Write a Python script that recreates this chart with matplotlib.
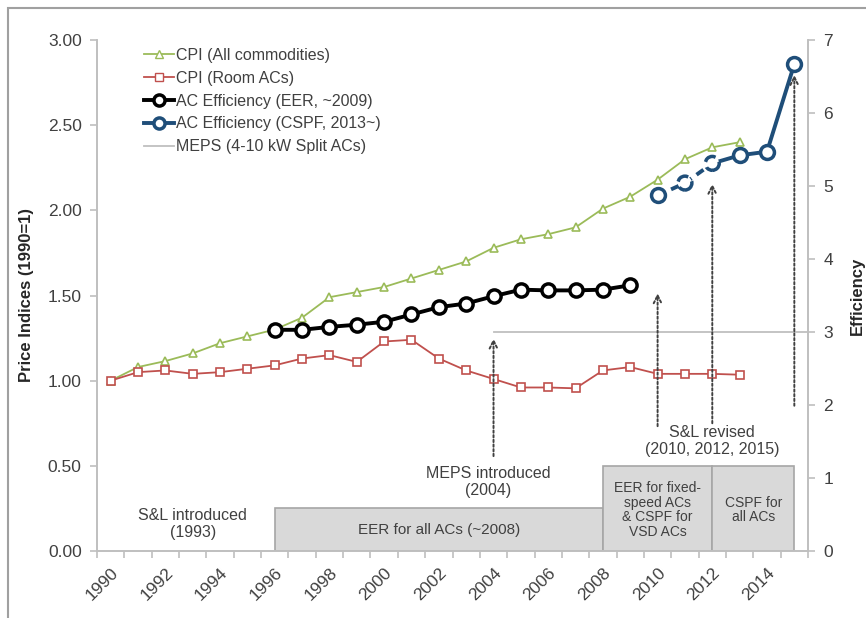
#!/usr/bin/env python3
"""Price indices vs. room AC efficiency, with S&L / MEPS milestones."""

import matplotlib

matplotlib.use("Agg")
import matplotlib.pyplot as plt
from matplotlib.lines import Line2D
from matplotlib.patches import Rectangle

plt.rcParams["font.family"] = ["Liberation Sans", "DejaVu Sans"]

# ---- data ----
years = list(range(1990, 2016))

cpi_all_years = list(range(1990, 2014))
cpi_all = [1.00, 1.08, 1.115, 1.16, 1.22, 1.26, 1.30, 1.37, 1.49, 1.52, 1.55, 1.60,
           1.65, 1.70, 1.78, 1.83, 1.86, 1.90, 2.01, 2.08, 2.18, 2.30, 2.37, 2.40]

cpi_room_years = list(range(1990, 2014))
cpi_room = [1.00, 1.05, 1.06, 1.04, 1.05, 1.07, 1.09, 1.13, 1.15, 1.11, 1.23, 1.24,
            1.13, 1.06, 1.01, 0.96, 0.96, 0.955, 1.06, 1.08, 1.04, 1.04, 1.04, 1.035]

eer_years = list(range(1996, 2010))
eer = [3.03, 3.03, 3.07, 3.10, 3.14, 3.24, 3.34, 3.39, 3.49, 3.58, 3.57, 3.57, 3.58, 3.64]

cspf_years = list(range(2010, 2016))
cspf = [4.87, 5.04, 5.31, 5.42, 5.47, 6.67]
cspf_estimated = [True, True, True, False, False, False]  # dashed part

meps_start = 2004
meps_value = 3.0

# regulation periods: (start, end, height on price axis, label)
periods_start = [1996, 2008, 2012]
periods_end = [2008, 2012, 2015]
periods_height = [0.25, 0.5, 0.5]
periods_label = ["EER for all ACs (~2008)",
                 "EER for fixed-\nspeed ACs\n& CSPF for\nVSD ACs",
                 "CSPF for\nall ACs"]

# milestone arrows on the efficiency axis: (year, bottom, top)
arrow_years = [2004, 2010, 2012, 2015]
arrow_bottom = [1.30, 1.71, 1.75, 1.99]
arrow_top = [2.91, 3.53, 5.03, 6.52]

label_years = list(range(1990, 2015, 2))

GREEN = "#9bbb59"
RED = "#c0504d"
BLUE = "#1f4e79"
GREY_TXT = "#404040"
SPINE = "#bfbfbf"

fig = plt.figure(figsize=(8.66, 6.18), dpi=100)
fig.patch.set_facecolor("white")
fig.patches.append(Rectangle((8 / 866, -0.05), 1.1, 1 - 8 / 618 + 0.05,
                             transform=fig.transFigure, fill=False,
                             edgecolor="#a0a0a0", linewidth=1.5))

ax = fig.add_axes([97 / 866, 1 - 551 / 618, (808 - 97) / 866, (551 - 40) / 618])
ax2 = ax.twinx()

ax.set_xlim(years[0] - 0.5, years[-1] + 0.5)
ax.set_ylim(0, 3)
ax2.set_ylim(0, 7)

# price indices
ax.plot(cpi_all_years, cpi_all, color=GREEN, lw=1.3, marker="^", ms=6,
        mfc="white", mec=GREEN, mew=1.2, zorder=3)
ax.plot(cpi_room_years, cpi_room, color=RED, lw=1.3, marker="s", ms=6,
        mfc="white", mec=RED, mew=1.2, zorder=3)

# regulation boxes + labels
for x0, x1, h, lab in zip(periods_start, periods_end, periods_height, periods_label):
    ax.add_patch(Rectangle((x0, 0), x1 - x0, h, facecolor="#d9d9d9",
                           edgecolor="#a6a6a6", lw=1.2, zorder=2))
    fs = 11 if "\n" not in lab else 10
    ax.text((x0 + x1) / 2, h * 0.5 if h < 0.3 else 0.24, lab, ha="center", va="center",
            fontsize=fs, color=GREY_TXT, linespacing=1.05, zorder=4)

ax.text(1993, 0.16, "S&L introduced\n(1993)", ha="center", va="center",
        fontsize=11.5, color=GREY_TXT, linespacing=1.15)
ax.text(2003.8, 0.405, "MEPS introduced\n(2004)", ha="center", va="center",
        fontsize=11.5, color=GREY_TXT, linespacing=1.15)
ax.text(2012, 0.645, "S&L revised\n(2010, 2012, 2015)", ha="center", va="center",
        fontsize=11.5, color=GREY_TXT, linespacing=1.15)

# efficiency
ax2.plot([meps_start, years[-1] + 0.5], [meps_value, meps_value], color=SPINE, lw=1.3,
         zorder=2)
ax2.plot(eer_years, eer, color="black", lw=2.8, marker="o", ms=9.5, mfc="white",
         mec="black", mew=2.5, zorder=4)

est_x = [y for y, e in zip(cspf_years, cspf_estimated) if e]
est_v = [v for v, e in zip(cspf, cspf_estimated) if e]
act_x = [cspf_years[len(est_x) - 1]] + [y for y, e in zip(cspf_years, cspf_estimated) if not e]
act_v = [cspf[len(est_x) - 1]] + [v for v, e in zip(cspf, cspf_estimated) if not e]
ax2.plot(est_x, est_v, color=BLUE, lw=2.8, ls=(0, (2.2, 1.6)), zorder=4)
ax2.plot(act_x, act_v, color=BLUE, lw=2.8, zorder=4)
ax2.plot([cspf_years[0]] + act_x[1:], [cspf[0]] + act_v[1:], ls="none", marker="o",
         ms=10, mfc="white", mec=BLUE, mew=2.5, zorder=5)
ax2.scatter(est_x[1:], est_v[1:], s=100, facecolors="white", edgecolors=BLUE,
            linewidths=2.5, linestyles="--", zorder=5)

for x, y0, y1 in zip(arrow_years, arrow_bottom, arrow_top):
    ax2.annotate("", xy=(x, y1), xytext=(x, y0),
                 arrowprops=dict(arrowstyle="->", color="#404040", lw=1.4,
                                 linestyle=(0, (1.2, 1.2)), shrinkA=0, shrinkB=0,
                                 mutation_scale=14),
                 zorder=6)

# axes styling
for a in (ax, ax2):
    a.spines["top"].set_visible(False)
    for side in ("left", "right", "bottom"):
        a.spines[side].set_color(SPINE)
        a.spines[side].set_linewidth(1.2)

ax.set_xticks(label_years)
ax.set_xticklabels([str(y) for y in label_years], rotation=45, ha="right",
                   rotation_mode="anchor", fontsize=12.5, color=GREY_TXT)
ax.tick_params(axis="x", which="major", length=0, pad=10)
ax.set_xticks([y - 0.5 for y in years] + [years[-1] + 0.5], minor=True)
ax.tick_params(axis="x", which="minor", length=5, color=SPINE, width=1.2)

ax.set_yticks([0, 0.5, 1.0, 1.5, 2.0, 2.5, 3.0])
ax.set_yticklabels([f"{v:.2f}" for v in ax.get_yticks()], fontsize=12.5, color=GREY_TXT)
ax.tick_params(axis="y", length=5, color=SPINE, width=1.2, pad=6)
ax2.set_yticks(range(0, 8))
ax2.set_yticklabels([str(v) for v in range(0, 8)], fontsize=12.5, color=GREY_TXT)
ax2.tick_params(axis="y", length=5, color=SPINE, width=1.2, pad=6)

ax.set_ylabel("Price Indices (1990=1)", fontsize=12, fontweight="bold", color="#262626",
              labelpad=10)
ax2.set_ylabel("Efficiency", fontsize=12, fontweight="bold", color="#262626",
               rotation=90, labelpad=12)

handles = [
    Line2D([], [], color=GREEN, lw=1.3, marker="^", ms=6, mfc="white", mec=GREEN),
    Line2D([], [], color=RED, lw=1.3, marker="s", ms=6, mfc="white", mec=RED),
    Line2D([], [], color="black", lw=2.8, marker="o", ms=8, mfc="white", mew=2.5),
    Line2D([], [], color=BLUE, lw=2.8, marker="o", ms=8, mfc="white", mec=BLUE, mew=2.5),
    Line2D([], [], color=SPINE, lw=1.3),
]
labels = ["CPI (All commodities)", "CPI (Room ACs)", "AC Efficiency (EER, ~2009)",
          "AC Efficiency (CSPF, 2013~)", "MEPS (4-10 kW Split ACs)"]
leg = ax2.legend(handles, labels, loc="upper left", bbox_to_anchor=(0.052, 1.004),
                 frameon=False, fontsize=11.5, handlelength=1.9, handletextpad=0.15,
                 labelspacing=0.5, borderaxespad=0.2)
for t in leg.get_texts():
    t.set_color(GREY_TXT)

fig.savefig("out.png", dpi=100)
